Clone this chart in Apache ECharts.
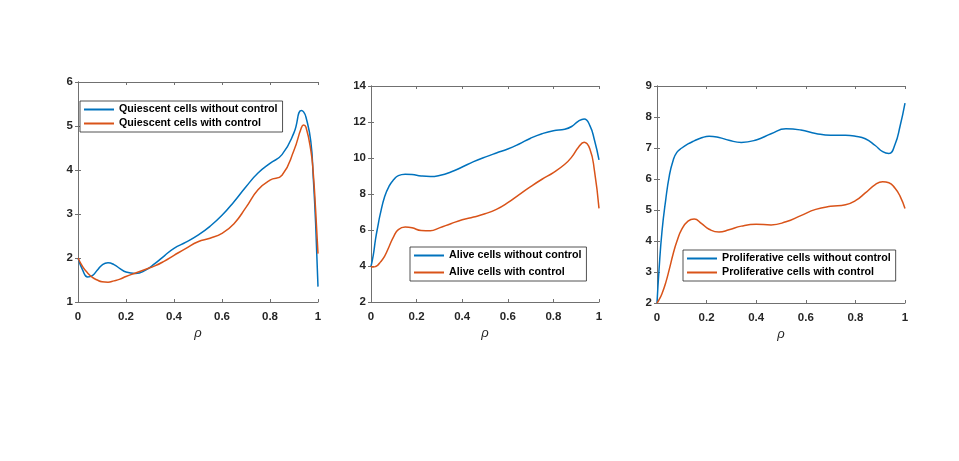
<!DOCTYPE html>
<html>
<head>
<meta charset="utf-8">
<script src="https://cdn.jsdelivr.net/npm/echarts@6/dist/echarts.min.js"></script>
<style>
  html, body { margin: 0; padding: 0; background: #fff; }
  #main { width: 959px; height: 461px; }
</style>
</head>
<body>
<div id="main"></div>
<script>
// --- data ---
var rho1 = [0, 0.02, 0.04, 0.06, 0.08, 0.1, 0.125, 0.15, 0.175, 0.2, 0.24, 0.28, 0.32, 0.36, 0.4, 0.45, 0.5, 0.55, 0.6, 0.65, 0.7, 0.75, 0.8, 0.85, 0.9, 0.93, 0.94, 0.95, 0.97, 0.98, 0.99, 1.0];
var quiescentWithout = [2.0, 1.72, 1.57, 1.6, 1.72, 1.84, 1.89, 1.85, 1.76, 1.68, 1.65, 1.72, 1.87, 2.05, 2.22, 2.36, 2.52, 2.72, 2.97, 3.28, 3.62, 3.93, 4.15, 4.35, 4.85, 5.35, 5.32, 5.2, 4.65, 3.85, 2.8, 1.35];
var quiescentWith = [2.0, 1.8, 1.66, 1.56, 1.5, 1.46, 1.45, 1.48, 1.52, 1.58, 1.66, 1.74, 1.82, 1.93, 2.06, 2.22, 2.37, 2.45, 2.56, 2.78, 3.15, 3.55, 3.77, 3.88, 4.45, 4.95, 5.02, 4.97, 4.45, 3.95, 3.1, 2.1];

var rho2 = [0, 0.01, 0.02, 0.03, 0.04, 0.06, 0.08, 0.1, 0.12, 0.15, 0.18, 0.22, 0.26, 0.3, 0.35, 0.4, 0.45, 0.5, 0.55, 0.6, 0.65, 0.7, 0.75, 0.8, 0.85, 0.88, 0.91, 0.935, 0.96, 0.98, 1.0];
var aliveWithout = [3.97, 4.6, 5.5, 6.2, 6.85, 7.86, 8.45, 8.8, 9.02, 9.1, 9.08, 9.0, 8.97, 9.03, 9.22, 9.5, 9.8, 10.05, 10.28, 10.5, 10.78, 11.1, 11.35, 11.52, 11.6, 11.75, 12.05, 12.17, 11.8, 11.0, 9.9];
var aliveWith = [3.97, 3.94, 3.97, 4.05, 4.2, 4.55, 5.1, 5.65, 6.02, 6.16, 6.12, 5.97, 5.96, 6.12, 6.35, 6.57, 6.72, 6.9, 7.15, 7.52, 7.97, 8.41, 8.82, 9.19, 9.65, 10.05, 10.6, 10.87, 10.5, 9.3, 7.2];

var rho3 = [0, 0.008, 0.02, 0.035, 0.05, 0.065, 0.08, 0.1, 0.125, 0.15, 0.18, 0.21, 0.25, 0.29, 0.34, 0.4, 0.46, 0.52, 0.58, 0.64, 0.7, 0.76, 0.8, 0.84, 0.88, 0.91, 0.935, 0.96, 0.98, 1.0];
var prolifWithout = [2.0, 3.05, 4.3, 5.32, 6.12, 6.6, 6.86, 7.0, 7.13, 7.23, 7.33, 7.38, 7.34, 7.25, 7.18, 7.26, 7.46, 7.62, 7.58, 7.47, 7.41, 7.41, 7.38, 7.3, 7.08, 6.88, 6.82, 7.12, 7.7, 8.45];
var prolifWith = [2.0, 2.1, 2.3, 2.65, 3.1, 3.58, 3.98, 4.38, 4.64, 4.71, 4.56, 4.38, 4.29, 4.36, 4.48, 4.54, 4.52, 4.62, 4.82, 5.02, 5.12, 5.17, 5.3, 5.55, 5.82, 5.91, 5.88, 5.7, 5.45, 5.05];

var names = [
  ['Quiescent cells without control', 'Quiescent cells with control'],
  ['Alive cells without control', 'Alive cells with control'],
  ['Proliferative cells without control', 'Proliferative cells with control']
];
var yRanges = [[1, 6, 1], [2, 14, 2], [2, 9, 1]];

var blue = '#0072BD', orange = '#D95319';
var axisColor = '#262626';
var boxColor = '#707070';
var font = 'Liberation Sans';

function pairs(xs, ys) {
  return xs.map(function (x, i) { return [x, ys[i]]; });
}

var grids = [
  { left: 78, top: 82, width: 240, height: 220 },
  { left: 371, top: 86, width: 228, height: 216 },
  { left: 657, top: 86, width: 248, height: 217 }
];

var xAxes = [], yAxes = [], series = [];
var curves = [
  [rho1, quiescentWithout, quiescentWith],
  [rho2, aliveWithout, aliveWith],
  [rho3, prolifWithout, prolifWith]
];

grids.forEach(function (g, k) {
  var tick = { show: true, inside: true, length: 3, lineStyle: { color: boxColor } };
  var line = { show: true, lineStyle: { color: boxColor, width: 1 } };
  // bottom + top
  xAxes.push({
    type: 'value', gridIndex: k, min: 0, max: 1, interval: 0.2, position: 'bottom',
    axisLine: line, axisTick: tick, splitLine: { show: false },
    axisLabel: { color: axisColor, fontFamily: font, fontWeight: 'bold', fontSize: 11.5, margin: 9 },
    name: 'ρ', nameLocation: 'middle', nameGap: 25,
    nameTextStyle: { color: axisColor, fontFamily: font, fontStyle: 'italic', fontSize: 13 }
  });
  xAxes.push({
    type: 'value', gridIndex: k, min: 0, max: 1, interval: 0.2, position: 'top',
    axisLine: line, axisTick: tick, splitLine: { show: false }, axisLabel: { show: false }
  });
  var yr = yRanges[k];
  yAxes.push({
    type: 'value', gridIndex: k, min: yr[0], max: yr[1], interval: yr[2], position: 'left',
    axisLine: line, axisTick: tick, splitLine: { show: false },
    axisLabel: { color: axisColor, fontFamily: font, fontWeight: 'bold', fontSize: 11.5, margin: 5 }
  });
  yAxes.push({
    type: 'value', gridIndex: k, min: yr[0], max: yr[1], interval: yr[2], position: 'right',
    axisLine: line, axisTick: tick, splitLine: { show: false }, axisLabel: { show: false }
  });

  var c = curves[k];
  [[c[1], blue, names[k][0]], [c[2], orange, names[k][1]]].forEach(function (s) {
    series.push({
      name: s[2], type: 'line', xAxisIndex: 2 * k, yAxisIndex: 2 * k,
      data: pairs(c[0], s[0]), symbol: 'none', smooth: 0.5,
      lineStyle: { color: s[1], width: 1.5 }, itemStyle: { color: s[1] },
      animation: false
    });
  });
});

function legendAt(k, left, top, gap) {
  return {
    data: names[k], orient: 'vertical', left: left, top: top,
    itemWidth: 30, itemHeight: 10, itemGap: gap,
    padding: [3, 5, 3, 3],
    itemStyle: { opacity: 0 },
    backgroundColor: '#fff', borderColor: axisColor, borderWidth: 0.8,
    textStyle: { color: '#000', fontFamily: font, fontWeight: 'bold', fontSize: 10.7 },
    selectedMode: false
  };
}

var chart = echarts.init(document.getElementById('main'));
chart.setOption({
  backgroundColor: '#fff',
  animation: false,
  grid: grids,
  xAxis: xAxes,
  yAxis: yAxes,
  legend: [legendAt(0, 80, 101, 3), legendAt(1, 410, 247, 6), legendAt(2, 683, 250, 3)],
  series: series
});
</script>
</body>
</html>
